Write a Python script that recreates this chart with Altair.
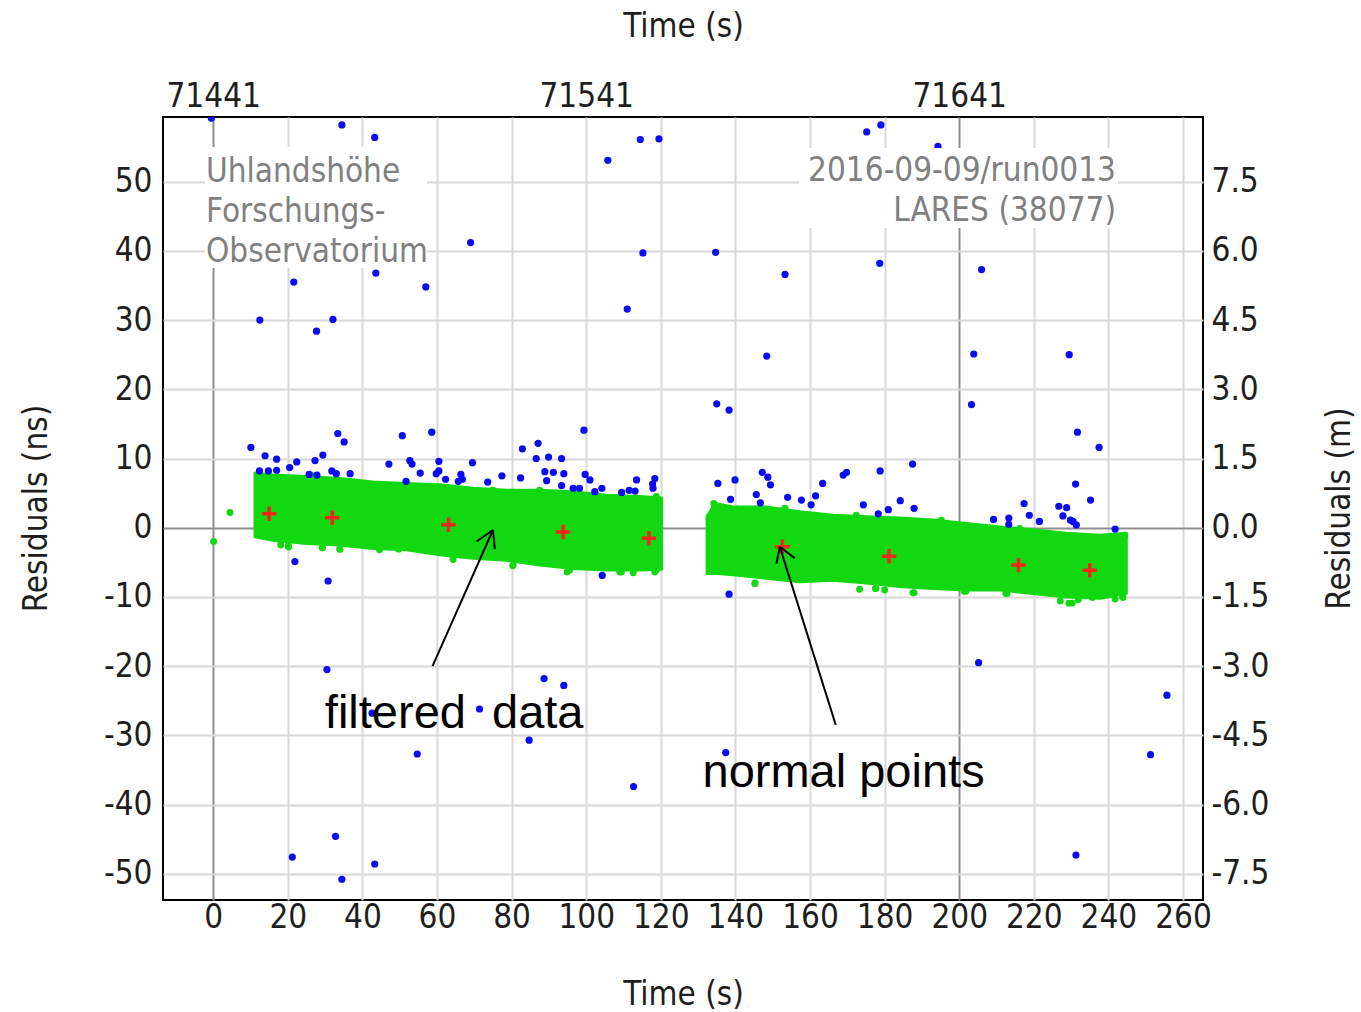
import altair as alt
import pandas as pd

# ---------------- data ----------------
# rejected returns (blue)
blue_t = [-0.5, 34.5, 43.3, 105.8, 114.5, 119.5, 175.2, 179.0, 194.3,
          69.0, 21.6, 43.6, 57.0, 12.5, 27.7, 32.1,
          115.2, 134.7, 153.3, 178.7, 206.0, 111.0,
          148.4, 203.9, 229.5, 135.0, 138.3, 203.3, 231.7, 237.5,
          30.5, 88.7, 94.0, 42.6, 71.4, 84.7, 54.7, 112.7, 32.8, 21.2, 43.3, 34.5,
          205.2, 255.7, 137.4, 251.3, 231.3,
          21.9, 30.8, 138.3, 104.3,
          10.1, 13.9, 17.0, 12.4, 14.8, 17.0, 20.5, 22.4, 27.3, 29.4, 33.4, 35.1, 31.8, 33.0, 36.7, 25.7, 27.8,
          47.1, 50.7, 58.6, 52.7, 53.3, 55.5, 60.5, 60.5, 59.8, 51.7, 62.3, 66.4, 66.8, 65.7, 69.5, 73.6, 77.4,
          82.9, 87.1, 86.6, 89.9, 93.4, 82.4, 88.9, 91.2, 94.0, 89.4, 93.4, 96.5, 98.2, 99.4, 99.7, 101.0, 102.3, 104.2,
          109.5, 111.5, 113.1, 113.5, 117.8, 118.4, 117.9,
          135.3, 139.9, 147.2, 148.7, 149.4, 138.7, 145.6, 146.7, 154.0, 157.7, 161.5, 160.3, 163.4, 168.9, 169.8,
          174.3, 178.8, 178.3, 181.0, 184.2, 187.5, 187.9,
          209.2, 213.3, 213.3, 217.4, 218.8, 221.5, 226.7, 228.8, 227.8, 229.8, 230.5, 231.4, 231.2, 235.2, 241.8]
blue_r = [59.2, 58.2, 56.4, 53.1, 56.1, 56.2, 57.2, 58.2, 55.1,
          41.2, 35.5, 36.8, 34.8, 30.0, 28.4, 30.1,
          39.7, 39.8, 36.6, 38.2, 37.3, 31.6,
          24.8, 25.1, 25.0, 17.9, 17.0, 17.8, 13.8, 11.6,
          -20.5, -21.8, -22.8, -26.8, -26.2, -30.7, -32.7, -37.4, -44.6, -47.6, -48.6, -50.8,
          -19.5, -24.2, -32.5, -32.8, -47.3,
          -4.9, -7.7, -9.6, -6.9,
          11.6, 10.4, 9.9, 8.2, 8.2, 8.3, 8.7, 9.5, 9.7, 10.5, 13.6, 12.4, 8.2, 7.8, 7.8, 7.7, 7.6,
          9.2, 13.3, 13.8, 9.7, 9.2, 7.9, 9.6, 8.2, 7.8, 6.7, 7.0, 7.7, 7.0, 6.7, 9.4, 6.6, 7.5,
          11.4, 12.2, 10.0, 10.2, 10.0, 7.2, 8.1, 8.0, 7.8, 6.8, 6.1, 5.7, 5.7, 14.1, 7.7, 6.9, 5.2, 5.7,
          5.1, 5.4, 5.3, 6.9, 6.3, 7.1, 5.7,
          6.4, 6.9, 8.0, 7.3, 6.2, 4.1, 4.8, 3.6, 4.4, 4.0, 4.6, 3.3, 6.4, 7.6, 8.0,
          3.3, 8.2, 2.0, 2.6, 3.9, 9.2, 2.8,
          1.2, 1.4, 0.5, 3.5, 1.8, 0.9, 3.1, 2.9, 1.7, 1.1, 0.9, 0.4, 6.3, 4.0, -0.2]

# accepted returns (green): dense band envelope per pass segment
band_left_t = [11.2, 16.0, 25.0, 33.9, 42.8, 51.8, 60.7, 69.7, 78.6, 87.5, 96.5, 105.4, 114.3, 120.2]
band_left_hi = [7.9, 7.6, 7.4, 7.1, 6.6, 6.4, 6.2, 5.7, 5.4, 5.4, 5.2, 4.7, 4.5, 4.3]
band_left_lo = [-1.3, -1.8, -2.3, -2.5, -3.0, -3.2, -3.9, -4.4, -4.7, -5.4, -5.9, -6.1, -6.1, -6.0]
band_right_t = [132.4, 134.5, 139.4, 148.3, 157.2, 166.2, 175.1, 184.0, 193.0, 201.9, 210.9, 219.8, 228.7, 237.7, 244.8]
band_right_hi = [1.6, 3.5, 3.0, 3.0, 2.3, 1.8, 1.6, 1.4, 1.1, 0.6, 0.1, -0.3, -0.8, -1.1, -0.8]
band_right_lo = [-6.6, -6.6, -6.8, -7.3, -7.8, -7.6, -8.0, -8.5, -8.8, -9.0, -9.0, -9.5, -10.0, -10.2, -9.5]
# individual green returns around the dense band
green_t = [0.1, 4.5, 18.1, 20.2, 29.3, 33.9, 80.4, 95.6, 109.0, 118.4,
           145.2, 177.5, 180.0, 187.6, 201.3, 212.5, 229.4, 231.9, 241.8, 243.8,
           20.1, 29.2, 34.0, 44.6, 49.7, 64.3, 80.3, 94.9, 109.4, 112.6, 118.8,
           12.3, 26.3, 52.2, 75.0, 87.5, 118.8,
           145.3, 173.3, 177.7, 187.9, 201.8, 212.8, 227.1, 230.3, 235.7, 243.9,
           134.2, 153.3, 172.4, 195.2, 216.2, 244.4]
green_r = [-2.0, 2.2, -2.5, -2.8, -2.9, -3.1, -5.4, -6.1, -6.4, -6.4,
           -8.1, -8.8, -9.0, -9.4, -9.2, -9.5, -10.9, -10.4, -10.3, -9.8,
           -2.6, -2.9, -3.1, -3.2, -3.1, -4.6, -5.5, -6.4, -6.4, -6.5, -6.1,
           7.3, 7.6, 6.2, 5.4, 5.4, 4.5,
           -8.0, -8.9, -8.8, -9.4, -9.2, -9.5, -10.6, -10.9, -10.1, -10.1,
           3.5, 2.8, 1.8, 1.1, -0.1, -1.1]

# normal points (red crosses)
np_t = [15.0, 31.9, 63.1, 93.8, 116.8, 152.6, 181.2, 215.9, 235.0]
np_r = [2.02, 1.45, 0.43, -0.62, -1.53, -2.75, -4.13, -5.39, -6.16]

# annotation arrows (data units): start -> end
arrow_t = [58.8, 75.0, 75.0, 166.9, 151.9, 151.9]
arrow_r = [-20.0, -0.33, -0.33, -28.5, -2.75, -2.75]
arrow_t2 = [75.0, 70.6, 75.5, 151.9, 151.0, 155.9]
arrow_r2 = [-0.33, -2.0, -3.1, -2.75, -5.2, -4.4]
note_text = ["filtered\u00a0 data", "normal points"]
note_t = [64.6, 169.0]
note_r = [-26.95, -35.4]

station_lines = ["Uhlandshöhe", "Forschungs-", "Observatorium"]
pass_lines = ["2016-09-09/run0013", "LARES (38077)"]

x_ticks = list(range(0, 261, 20))
y_ticks = list(range(-50, 51, 10))
top_ticks = [0, 100, 200]
epoch_offset = 71441
ns_to_m = 0.15
x_domain = [-13.46, 265.36]
y_domain = [-53.8, 59.35]

# ---------------- frames ----------------
band_df = pd.concat([
    pd.DataFrame({"t": band_left_t, "hi": band_left_hi, "lo": band_left_lo, "seg": "a"}),
    pd.DataFrame({"t": band_right_t, "hi": band_right_hi, "lo": band_right_lo, "seg": "b"}),
], ignore_index=True)
blue_df = pd.DataFrame({"t": blue_t, "r": blue_r})
green_df = pd.DataFrame({"t": green_t, "r": green_r})
np_df = pd.DataFrame({"t": np_t, "r": np_r})
arrow_df = pd.DataFrame({"t": arrow_t, "r": arrow_r, "t2": arrow_t2, "r2": arrow_r2})
note_df = pd.DataFrame({"t": note_t, "r": note_r, "label": note_text})
one = pd.DataFrame({"k": [0]})

FONT = "DejaVu Sans Condensed, DejaVu Sans"
TXT = "#1e1e1e"
GREEN = "#12d812"
BLUE = "#0b0bef"
RED = "#f0281a"

xs = alt.Scale(domain=x_domain, nice=False, zero=False)
ys = alt.Scale(domain=y_domain, nice=False, zero=False)

common = dict(labelFont=FONT, labelFontSize=33, labelColor=TXT, titleFont=FONT,
              titleFontSize=33, titleFontWeight="normal", titleColor=TXT,
              ticks=False, tickSize=0, domain=False, labelOverlap=False, labelFlush=False)

bottom_axis = alt.Axis(orient="bottom", values=x_ticks, labelExpr="datum.value + ''",
                       title="Time (s)", titleX=520, titleY=94, titleAlign="center",
                       titleBaseline="middle", labelPadding=1, grid=True, gridWidth=2,
                       gridColor={"condition": {"test": "datum.value === 0 || datum.value === 200",
                                                "value": "#8f8f8f"}, "value": "#d8d8d8"},
                       **common)
left_axis = alt.Axis(orient="left", values=y_ticks, labelExpr="datum.value + ''",
                     title="Residuals (ns)", titleAngle=270, titleX=-127, titleY=391,
                     titleAlign="center", titleBaseline="middle", labelPadding=11,
                     grid=True, gridWidth=2,
                     gridColor={"condition": {"test": "datum.value === 0", "value": "#8f8f8f"},
                                "value": "#d8d8d8"},
                     **common)
top_axis = alt.Axis(orient="top", values=top_ticks,
                    labelExpr=f"(datum.value + {epoch_offset}) + ''",
                    title="Time (s)", titleX=520, titleY=-91, titleAlign="center",
                    titleBaseline="middle", labelPadding=4, grid=False, **common)
right_axis = alt.Axis(orient="right", values=y_ticks,
                      labelExpr=f"(datum.value < 0 ? '-' : '') + format(abs(datum.value) * {ns_to_m}, '.1f')",
                      title="Residuals (m)", titleAngle=270, titleX=136, titleY=391,
                      titleAlign="center", titleBaseline="middle", labelPadding=8, grid=False,
                      **common)

band = alt.Chart(band_df).mark_area(color=GREEN, opacity=1, clip=True, stroke=GREEN,
                                    strokeWidth=3, strokeJoin="round").encode(
    x=alt.X("t:Q", scale=xs, axis=bottom_axis),
    y=alt.Y("hi:Q", scale=ys, axis=left_axis),
    y2="lo:Q",
    detail="seg:N",
)
green_pts = alt.Chart(green_df).mark_circle(color=GREEN, size=48, opacity=1, clip=True).encode(
    x=alt.X("t:Q", scale=xs, axis=None),
    y=alt.Y("r:Q", scale=ys, axis=None),
)
blue_pts = alt.Chart(blue_df).mark_circle(color=BLUE, size=52, opacity=1, clip=True).encode(
    x=alt.X("t:Q", scale=xs, axis=top_axis),
    y=alt.Y("r:Q", scale=ys, axis=right_axis),
)
normal_pts = alt.Chart(np_df).mark_point(shape="M-1,0H1M0,-1V1", filled=False, size=210,
                                         stroke=RED, strokeWidth=3.5, opacity=1, clip=True).encode(
    x=alt.X("t:Q", scale=xs, axis=None),
    y=alt.Y("r:Q", scale=ys, axis=None),
)
box_left = alt.Chart(one).mark_rect(color="white").encode(
    x=alt.value(42), x2=alt.value(264), y=alt.value(30), y2=alt.value(151))
box_right = alt.Chart(one).mark_rect(color="white").encode(
    x=alt.value(636), x2=alt.value(955), y=alt.value(31), y2=alt.value(111))
station = alt.Chart(one).mark_text(align="left", baseline="top", font=FONT, fontSize=33,
                                   lineHeight=40, color="#808080").encode(
    x=alt.value(43), y=alt.value(39), text=alt.value(station_lines))
pass_info = alt.Chart(one).mark_text(align="right", baseline="top", font=FONT, fontSize=33,
                                     lineHeight=40, color="#808080").encode(
    x=alt.value(953), y=alt.value(38), text=alt.value(pass_lines))
arrows = alt.Chart(arrow_df).mark_rule(color="black", strokeWidth=2).encode(
    x=alt.X("t:Q", scale=xs, axis=None), y=alt.Y("r:Q", scale=ys, axis=None),
    x2="t2:Q", y2="r2:Q")
notes = alt.Chart(note_df).mark_text(font="Liberation Sans", fontSize=47, color="black",
                                     align="center", baseline="middle").encode(
    x=alt.X("t:Q", scale=xs, axis=None), y=alt.Y("r:Q", scale=ys, axis=None), text="label:N")

chart = alt.layer(
    band, green_pts, blue_pts, normal_pts, box_left, box_right, station, pass_info, arrows, notes
).resolve_axis(
    x="independent", y="independent"
).properties(
    width=1040, height=783,
    autosize=alt.AutoSizeParams(type="none"),
    padding={"left": 163, "top": 117, "right": 158, "bottom": 112},
    background="white",
).configure_view(stroke="black", strokeWidth=2)

chart.save("out.html", embed_options={"renderer": "svg", "actions": False})
